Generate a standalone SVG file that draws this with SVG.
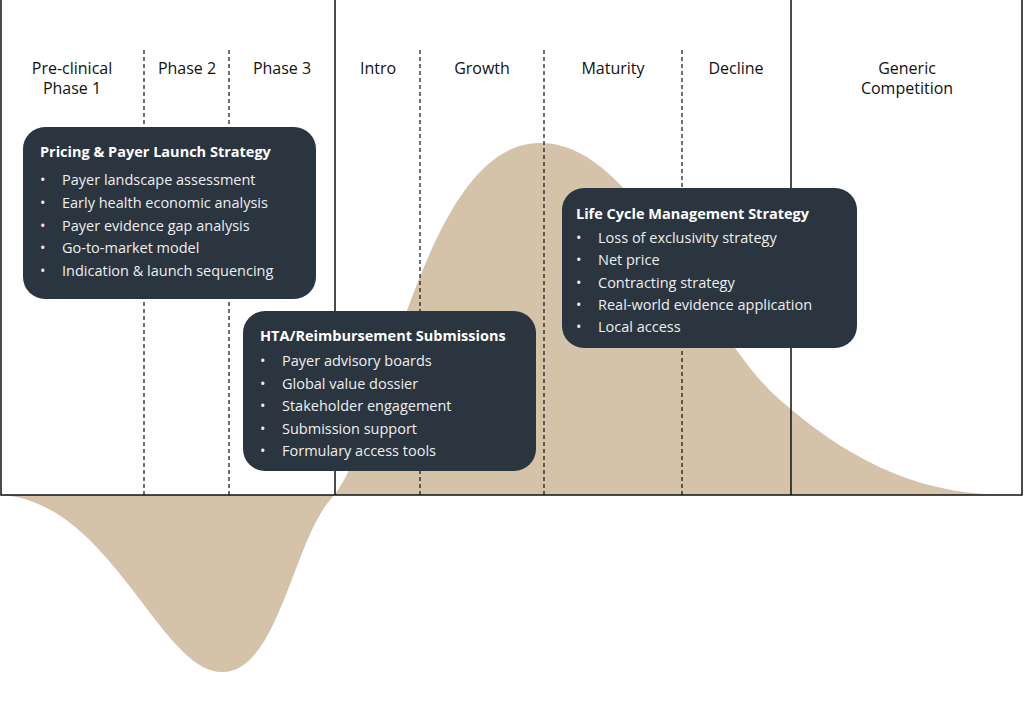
<svg xmlns="http://www.w3.org/2000/svg" width="1024" height="702" viewBox="0 0 1024 702">
<style>
.h{font-family:"Open Sans","Liberation Sans",sans-serif;font-size:16px;fill:#111;text-anchor:middle}
.t{font-family:"Open Sans","Liberation Sans",sans-serif;font-size:14.5px;font-weight:bold;fill:#fff}
.b{font-family:"Open Sans","Liberation Sans",sans-serif;font-size:14.5px;fill:#eee}
.box{fill:#2a3540}
.d{stroke:#111;stroke-width:1.2;stroke-dasharray:4 3}
.s{stroke:#111;stroke-width:1.5;fill:none}
</style>
<rect width="1024" height="702" fill="#fff"/>
<path d="M0,495 C110,500 160,672 222,672 C278,672 292,545 330,500 C385,445 420,143 540,143 C640,143 700,330 780,400 C860,470 930,495 1010,495 Z" fill="#d4c3a8"/>
<g id="connectors">
<path class="s" d="M1,0 V495 H1022 V0 M335,0 V495 M791,0 V495"/>
<path class="d" d="M144,50 V495 M229,50 V495 M420,50 V495 M544,50 V495 M682,50 V495"/>
</g>
<g id="headers">
<text class="h" x="72" y="74">Pre-clinical</text><text class="h" x="72" y="94">Phase 1</text>
<text class="h" x="187" y="74">Phase 2</text>
<text class="h" x="282" y="74">Phase 3</text>
<text class="h" x="378" y="74">Intro</text>
<text class="h" x="482" y="74">Growth</text>
<text class="h" x="613" y="74">Maturity</text>
<text class="h" x="736" y="74">Decline</text>
<text class="h" x="907" y="74">Generic</text><text class="h" x="907" y="94">Competition</text>
</g>
<g id="box1">
<rect class="box" x="23" y="127" width="293" height="172" rx="22"/>
<text class="t" x="40" y="157">Pricing &amp; Payer Launch Strategy</text>
<text class="b" x="40" y="185">•<tspan x="62">Payer landscape assessment</tspan></text>
<text class="b" x="40" y="208">•<tspan x="62">Early health economic analysis</tspan></text>
<text class="b" x="40" y="231">•<tspan x="62">Payer evidence gap analysis</tspan></text>
<text class="b" x="40" y="253">•<tspan x="62">Go-to-market model</tspan></text>
<text class="b" x="40" y="276">•<tspan x="62">Indication &amp; launch sequencing</tspan></text>
</g>
<g id="box2">
<rect class="box" x="243" y="311" width="293" height="160" rx="22"/>
<text class="t" x="260" y="341">HTA/Reimbursement Submissions</text>
<text class="b" x="260" y="366">•<tspan x="282">Payer advisory boards</tspan></text>
<text class="b" x="260" y="389">•<tspan x="282">Global value dossier</tspan></text>
<text class="b" x="260" y="411">•<tspan x="282">Stakeholder engagement</tspan></text>
<text class="b" x="260" y="434">•<tspan x="282">Submission support</tspan></text>
<text class="b" x="260" y="456">•<tspan x="282">Formulary access tools</tspan></text>
</g>
<g id="box3">
<rect class="box" x="562" y="188" width="295" height="160" rx="22"/>
<text class="t" x="576" y="219">Life Cycle Management Strategy</text>
<text class="b" x="576" y="243">•<tspan x="598">Loss of exclusivity strategy</tspan></text>
<text class="b" x="576" y="265">•<tspan x="598">Net price</tspan></text>
<text class="b" x="576" y="288">•<tspan x="598">Contracting strategy</tspan></text>
<text class="b" x="576" y="310">•<tspan x="598">Real-world evidence application</tspan></text>
<text class="b" x="576" y="332">•<tspan x="598">Local access</tspan></text>
</g>
</svg>
